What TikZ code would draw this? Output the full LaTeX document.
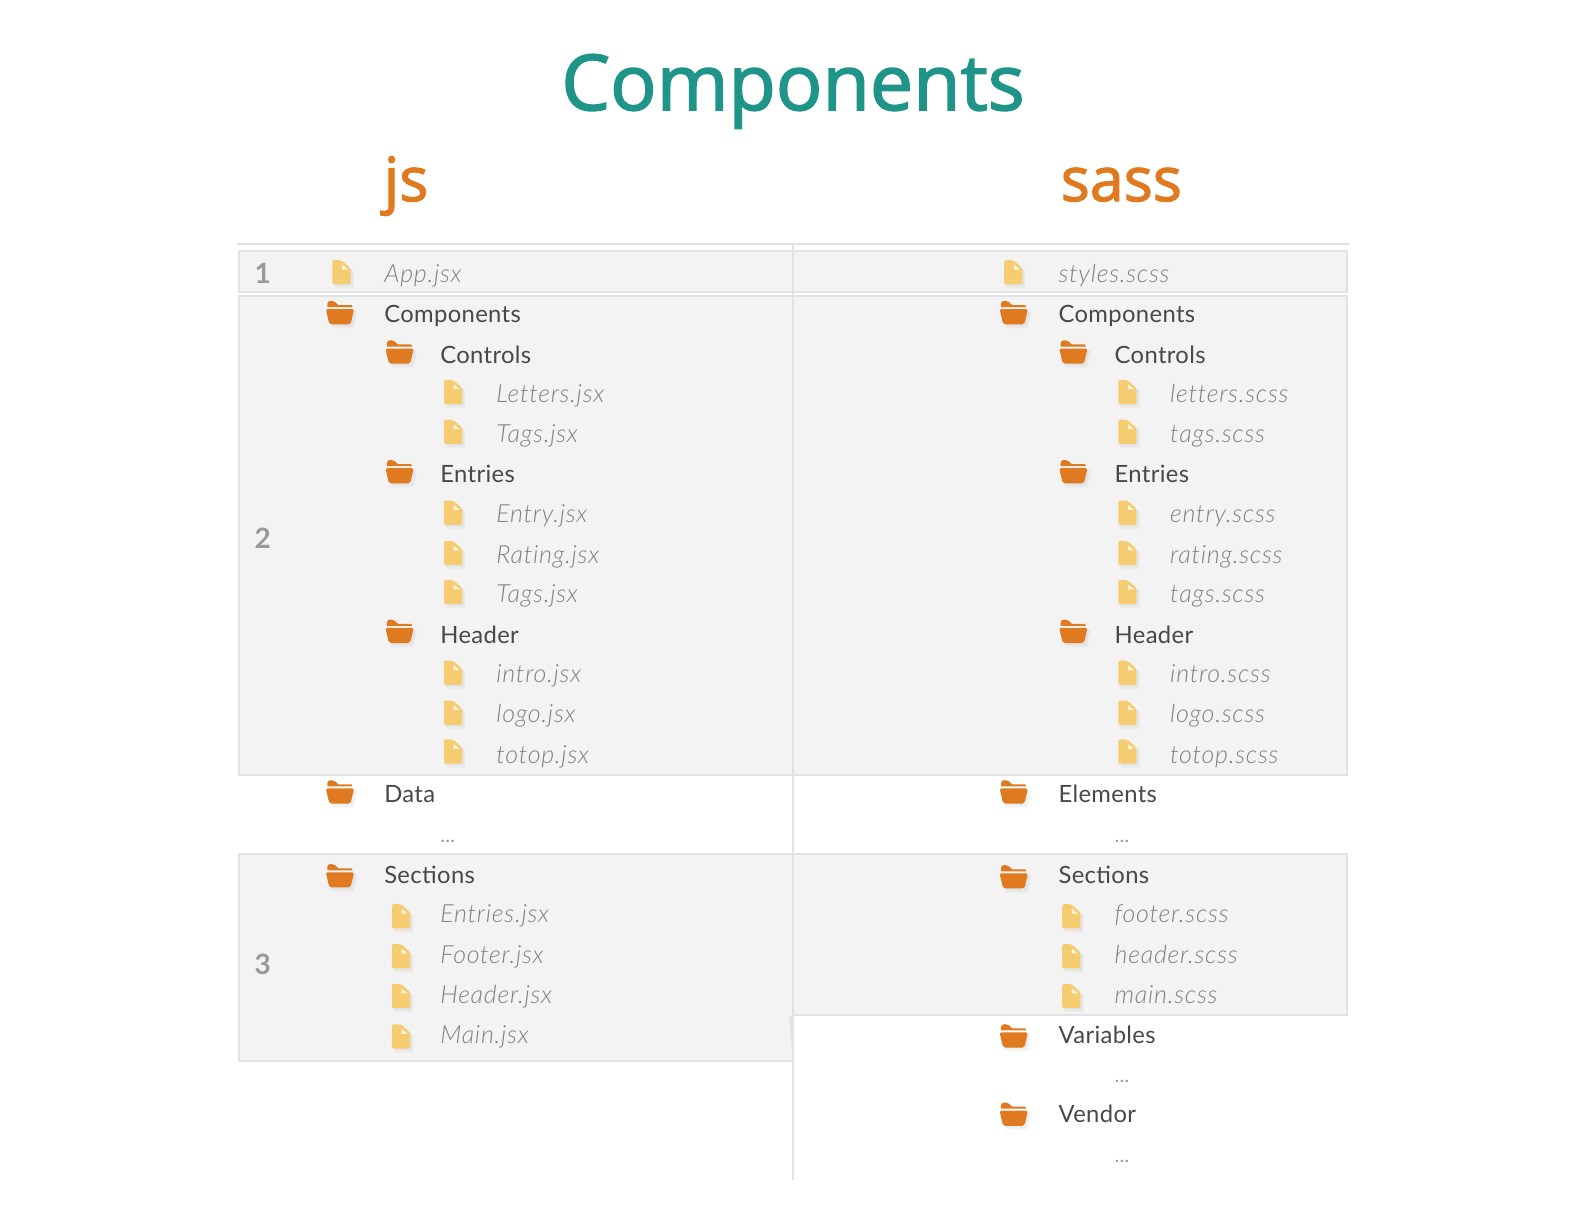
\documentclass[tikz,border=0pt]{standalone}
\usepackage{fontspec}
\setmainfont[LetterSpace=1.5]{Lato}
\newfontfamily\titlefont[FakeBold=2]{Open Sans}
\newfontfamily\filefont[LetterSpace=3,Ligatures=NoCommon]{Lato Light Italic}
\definecolor{teal1}{HTML}{1F9488}
\definecolor{orange1}{HTML}{E07A20}
\definecolor{yellow1}{HTML}{F5CD70}
\definecolor{rule1}{HTML}{E2E2E2}
\definecolor{band1}{HTML}{F3F3F3}
\definecolor{folderText}{HTML}{484848}
\definecolor{fileText}{HTML}{808080}
\definecolor{dotsText}{HTML}{999999}
\tikzset{
  x=0.5051pt,y=-0.5051pt,
  bandbox/.style={draw=rule1,fill=band1,line width=1pt},
  rulebar/.style={draw=rule1,line width=1pt},
  foldertext/.style={anchor=base west,inner sep=0pt,text=folderText,font=\fontsize{11.9}{14}\selectfont},
  filetext/.style={anchor=base west,inner sep=0pt,text=fileText,font=\fontsize{12.5}{14}\selectfont\filefont},
  dotstext/.style={anchor=base west,inner sep=0pt,text=dotsText,font=\fontsize{10}{12}\selectfont},
  numtext/.style={anchor=center,inner sep=0pt,text=dotsText,font=\fontsize{14}{16}\selectfont\bfseries},
  headtext/.style={anchor=base,inner sep=0pt,text=orange1,font=\titlefont\fontsize{30.5}{40}\selectfont},
  titletext/.style={anchor=base,inner sep=0pt,font=\titlefont\fontsize{38.6}{52}\selectfont},
  pics/fileicon/.style={code={
    \fill[black!35,opacity=.10] (-6,-9) -- (3,-9) -- (12,-1) -- (12,16) -- (-6,16) -- cycle;
    \fill[black!35,opacity=.10] (-8,-10) -- (1,-10) -- (11,-2) -- (11,14) -- (-8,14) -- cycle;
    \fill[yellow1,rounded corners=1pt] (-9,-12) -- (0,-12) -- (9,-4) -- (9,12) -- (-9,12) -- cycle;
    \fill[white!80!yellow1] (0.5,-7.5) -- (6.5,-2.7) -- (0.5,-2.7) -- cycle;
  }},
  pics/foldericon/.style={code={
    \fill[black!35,opacity=.10] (-10,-1) -- (17.5,-1) -- (14,15.5) -- (-7,15.5) -- cycle;
    \fill[black!35,opacity=.10] (-12,-2) -- (16,-2) -- (12.5,13.5) -- (-9,13.5) -- cycle;
    \fill[orange1] (-12.5,-5.5) -- (-12.5,-9) .. controls (-12.5,-12.8) and (-5.5,-13) .. (-1.5,-7.5) -- (11.5,-7.5) -- (12.5,-5.5) -- cycle;
    \fill[orange1,rounded corners=1pt] (-14,-3.5) -- (14,-3.5) -- (10.5,11.5) -- (-10.5,11.5) -- cycle;
  }},
}
\newcounter{rowid}
% icon x, text x, icon y, text row y, text
\newcommand{\filerow}[5]{\stepcounter{rowid}%
  \pic at (#1,#3) {fileicon};
  \node[filetext] (r\therowid) at (#2,#4+8.5) {#5};}
\newcommand{\folderrow}[5]{\stepcounter{rowid}%
  \pic at (#1,#3) {foldericon};
  \node[foldertext] (r\therowid) at (#2,#4+8.5) {#5};}
\newcommand{\dotsrow}[2]{\stepcounter{rowid}%
  \node[dotstext] (r\therowid) at (#1,#2+8) {...};}
\begin{document}
\begin{tikzpicture}
\useasboundingbox (0,0) rectangle (1568,1211.7);
% bands
\path[bandbox] (237,248.5) rectangle (1333,289);
\path[bandbox] (237,293) rectangle (1333,767.5);
\path[bandbox] (237,845.5) rectangle (785,1050);
\path[bandbox] (785,845.5) rectangle (1333,1005);
\fill[rule1] (781,1006) -- (785,1006) -- (785,1051) -- cycle;
\draw[rulebar] (235,242) -- (1335,242);
\draw[rulebar] (785,241) -- (785,1168);
% title and heads
\node[titletext,text=teal1] (title) at (785,109) {Components};
\node[headtext] (js) at (402,199) {js};
\node[headtext] (sass) at (1110,199) {sass};
% numbers
\node[numtext] (n1) at (260,271) {1};
\node[numtext] (n2) at (260,533) {2};
\node[numtext] (n3) at (260,955) {3};
% js column
\filerow{338}{380}{269.5}{271}{App.jsx}
\folderrow{336.5}{380}{309.5}{311}{Components}
\folderrow{395.5}{435.5}{348.5}{351}{Controls}
\filerow{448.5}{491}{388}{390}{Letters.jsx}
\filerow{448.5}{491}{427.5}{430}{Tags.jsx}
\folderrow{395.5}{435.5}{467}{469}{Entries}
\filerow{448.5}{491}{507.5}{509}{Entry.jsx}
\filerow{448.5}{491}{547.5}{549}{Rating.jsx}
\filerow{448.5}{491}{586}{588}{Tags.jsx}
\folderrow{395.5}{435.5}{625}{628}{Header}
\filerow{448.5}{491}{666}{667}{intro.jsx}
\filerow{448.5}{491}{705.5}{707}{logo.jsx}
\filerow{448.5}{491}{744}{747}{totop.jsx}
\folderrow{336.5}{380}{784}{786}{Data}
\dotsrow{435.5}{826}
\folderrow{336.5}{380}{867}{866}{Sections}
\filerow{397}{435.5}{907}{905}{Entries.jsx}
\filerow{397}{435.5}{946.5}{945}{Footer.jsx}
\filerow{397}{435.5}{986}{985}{Header.jsx}
\filerow{397}{435.5}{1026}{1024}{Main.jsx}
% sass column
\filerow{1003}{1047.5}{269.5}{271}{styles.scss}
\folderrow{1003.5}{1047.5}{309.5}{311}{Components}
\folderrow{1062.5}{1103}{348.5}{351}{Controls}
\filerow{1116}{1158}{388}{390}{letters.scss}
\filerow{1116}{1158}{427.5}{430}{tags.scss}
\folderrow{1062.5}{1103}{467}{469}{Entries}
\filerow{1116}{1158}{507.5}{509}{entry.scss}
\filerow{1116}{1158}{547.5}{549}{rating.scss}
\filerow{1116}{1158}{586}{588}{tags.scss}
\folderrow{1062.5}{1103}{625}{628}{Header}
\filerow{1116}{1158}{666}{667}{intro.scss}
\filerow{1116}{1158}{705.5}{707}{logo.scss}
\filerow{1116}{1158}{744}{747}{totop.scss}
\folderrow{1003.5}{1047.5}{784}{786}{Elements}
\dotsrow{1103}{826}
\folderrow{1003.5}{1047.5}{868}{866}{Sections}
\filerow{1060.5}{1103}{907}{905}{footer.scss}
\filerow{1060.5}{1103}{946.5}{945}{header.scss}
\filerow{1060.5}{1103}{986}{985}{main.scss}
\folderrow{1003.5}{1047.5}{1025.5}{1024}{Variables}
\dotsrow{1103}{1064}
\folderrow{1003.5}{1047.5}{1103}{1103}{Vendor}
\dotsrow{1103}{1143}
\end{tikzpicture}
\end{document}
